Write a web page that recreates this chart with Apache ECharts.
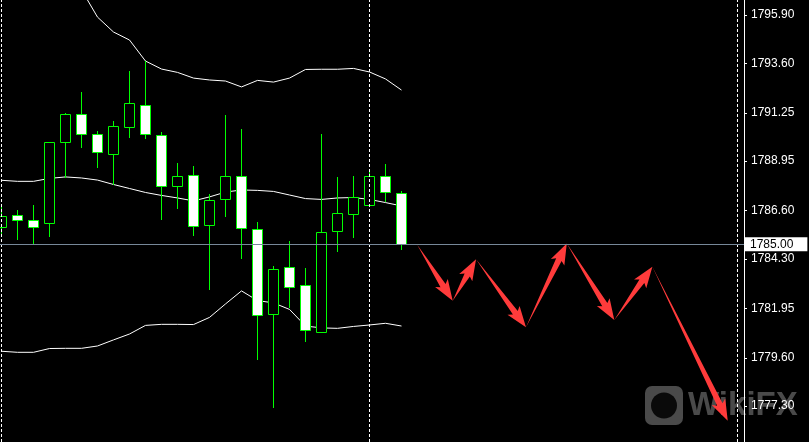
<!DOCTYPE html>
<html><head><meta charset="utf-8">
<script src="https://cdn.jsdelivr.net/npm/echarts@6/dist/echarts.min.js"></script>
<style>html,body{margin:0;padding:0;background:#000;}#c{width:809px;height:442px;}</style>
</head><body><div id="c"></div>
<script>
// ---- data ----
const candleIndex = [0,1,2,3,4,5,6,7,8,9,10,11,12,13,14,15,16,17,18,19,20,21,22,23,24,25];
const openValues  = [1785.80,1786.38,1786.14,1786.00,1789.85,1791.18,1790.23,1789.28,1790.56,1791.61,1790.18,1787.75,1788.28,1785.90,1787.14,1788.23,1785.71,1781.67,1783.90,1783.05,1780.81,1785.62,1786.42,1786.85,1788.23,1787.42];
const closeValues = [1786.34,1786.14,1785.80,1789.85,1791.18,1790.23,1789.37,1790.62,1791.70,1790.23,1787.75,1788.23,1785.85,1787.10,1788.23,1785.76,1781.62,1783.81,1782.95,1780.91,1785.57,1786.47,1787.23,1788.23,1787.47,1785.00];
const lowValues   = [1785.41,1785.26,1785.07,1785.41,1788.18,1789.64,1788.69,1787.85,1790.08,1790.04,1786.21,1786.74,1785.44,1782.89,1786.36,1784.36,1779.56,1777.28,1782.03,1780.41,1780.81,1784.69,1785.36,1786.85,1787.06,1784.79];
const highValues  = [1786.85,1786.63,1786.87,1789.86,1791.24,1792.22,1790.37,1790.86,1793.24,1793.71,1790.32,1788.86,1788.72,1787.39,1791.15,1790.48,1786.06,1783.97,1785.15,1783.86,1790.24,1788.20,1788.24,1788.42,1788.82,1787.53];
const bandUpper   = [1798.00,1798.30,1798.30,1798.00,1797.60,1797.10,1795.80,1795.09,1794.71,1793.71,1793.33,1793.17,1792.90,1792.81,1792.76,1792.48,1792.79,1792.71,1792.90,1793.31,1793.32,1793.32,1793.36,1793.19,1792.86,1792.33];
const bandMiddle  = [1788.04,1787.99,1787.99,1788.13,1788.20,1788.15,1788.05,1787.84,1787.65,1787.46,1787.32,1787.20,1787.06,1787.25,1787.48,1787.58,1787.56,1787.51,1787.34,1787.17,1787.13,1787.20,1787.22,1787.13,1786.98,1786.82];
const bandLower   = [1779.91,1779.86,1779.86,1780.04,1780.05,1780.05,1780.16,1780.45,1780.73,1781.14,1781.19,1781.19,1781.18,1781.52,1782.16,1782.78,1782.32,1782.21,1781.90,1781.11,1781.02,1781.00,1781.09,1781.16,1781.24,1781.11];
const tickValues  = [1795.90,1793.60,1791.25,1788.95,1786.60,1784.30,1781.95,1779.60,1777.30];
const currentPrice = 1785.00;
const periodSeparators = [0, 23, 46];
const forecastX = [25.99, 28.20, 29.66, 32.78, 35.33, 38.30, 40.68, 45.39];
const forecastY = [1784.96, 1782.31, 1784.28, 1781.05, 1785.04, 1781.40, 1783.93, 1776.61];

// ---- build ----
const candleData = candleIndex.map((x, k) => [x, openValues[k], closeValues[k], lowValues[k], highValues[k]]);
const pairs = (arr) => candleIndex.map((x, k) => [x, arr[k]]);
const arrowData = [];
for (let k = 0; k < forecastX.length - 1; k++) {
  arrowData.push([forecastX[k], forecastY[k], forecastX[k + 1], forecastY[k + 1]]);
}

function renderCandle(params, api) {
  const i = api.value(0), o = api.value(1), c = api.value(2), l = api.value(3), h = api.value(4);
  const po = api.coord([i, o]), pc = api.coord([i, c]);
  const yl = api.coord([i, l])[1], yh = api.coord([i, h])[1];
  const cx = Math.floor(po[0]) + 0.5;
  const top = Math.round(Math.min(po[1], pc[1])) + 0.5;
  const bot = Math.round(Math.max(po[1], pc[1])) + 0.5;
  const bull = c >= o;
  return {
    type: 'group',
    children: [
      { type: 'line', shape: { x1: cx, y1: Math.round(yh), x2: cx, y2: Math.round(yl) + 1 },
        style: { stroke: '#00ff00', lineWidth: 1 } },
      { type: 'rect', shape: { x: cx - 5, y: top, width: 10, height: Math.max(bot - top, 0) },
        style: { fill: bull ? '#000000' : '#ffffff', stroke: '#00ff00', lineWidth: 1 } }
    ]
  };
}

function renderArrow(params, api) {
  const p1 = api.coord([api.value(0), api.value(1)]);
  const p2 = api.coord([api.value(2), api.value(3)]);
  const dx = p2[0] - p1[0], dy = p2[1] - p1[1];
  const L = Math.hypot(dx, dy);
  const ux = dx / L, uy = dy / L, nx = -uy, ny = ux;
  const head = 18, s = 3, w = 7.5, back = 3;
  const pt = (a, b) => [p1[0] + ux * a + nx * b, p1[1] + uy * a + ny * b];
  return {
    type: 'polygon',
    shape: { points: [pt(0, 0), pt(L - head, s), pt(L - head - back, w), pt(L, 0), pt(L - head - back, -w), pt(L - head, -s)] },
    style: { fill: '#ff3b3b' }
  };
}

const chart = echarts.init(document.getElementById('c'), null, { renderer: 'canvas' });
chart.setOption({
  animation: false,
  backgroundColor: '#000000',
  grid: { left: 0, right: 65, top: 0, bottom: 0 },
  xAxis: { type: 'value', min: -0.09375, max: 46.40625, show: false },
  yAxis: {
    type: 'value', position: 'right', min: 1775.595, max: 1796.613,
    axisLine: { show: true, onZero: false, lineStyle: { color: '#ffffff', width: 1 } },
    axisTick: { show: true, customValues: tickValues, length: 3, lineStyle: { color: '#ffffff' } },
    axisLabel: { customValues: tickValues, margin: 7, color: '#ffffff', fontSize: 12,
      fontFamily: 'Liberation Sans', formatter: v => v.toFixed(2) },
    splitLine: { show: false }
  },
  graphic: [
    { type: 'rect', z: -10, shape: { x: 645, y: 386, width: 38, height: 39, r: 7 }, style: { fill: '#4a4a4a' } },
    { type: 'circle', z: -9, shape: { cx: 664, cy: 405.5, r: 13 }, style: { fill: '#0a0a0a' } },
    { type: 'text', z: -10, x: 688, y: 406, style: { text: 'WikiFX', font: 'bold 33px "Liberation Sans"', fill: '#4a4a4a', verticalAlign: 'middle' } }
  ],
  series: [
    {
      type: 'line', z: 1, data: [], silent: true,
      markLine: {
        silent: true, symbol: 'none',
        data: periodSeparators.map(x => ({ xAxis: x, lineStyle: { color: '#ffffff', type: [3, 2], width: 1 }, label: { show: false } }))
          .concat([{ yAxis: currentPrice, lineStyle: { color: '#778899', type: 'solid', width: 1 },
            label: { show: true, position: 'end', distance: 1, formatter: currentPrice.toFixed(2),
              backgroundColor: '#ffffff', color: '#000000', fontSize: 12, fontFamily: 'Liberation Sans',
              padding: [1, 14, 0, 5], lineHeight: 13 } }])
      }
    },
    { type: 'line', z: 2, data: pairs(bandUpper), symbol: 'none', silent: true, lineStyle: { color: '#ffffff', width: 1 } },
    { type: 'line', z: 2, data: pairs(bandMiddle), symbol: 'none', silent: true, lineStyle: { color: '#ffffff', width: 1 } },
    { type: 'line', z: 2, data: pairs(bandLower), symbol: 'none', silent: true, lineStyle: { color: '#ffffff', width: 1 } },
    { type: 'custom', z: 3, data: candleData, renderItem: renderCandle, silent: true, clip: true },
    { type: 'custom', z: 4, data: arrowData, renderItem: renderArrow, silent: true }
  ]
});
</script></body></html>
